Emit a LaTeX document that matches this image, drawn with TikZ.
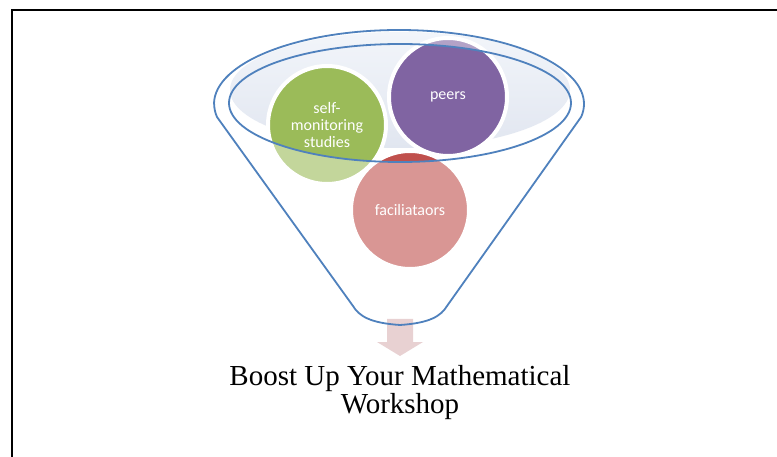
\documentclass[tikz,border=0pt]{standalone}
\usepackage{fontspec}
\setmainfont{Liberation Serif}
\newfontfamily\carlito{Carlito}
\definecolor{fgreen}{HTML}{9BBB59}
\definecolor{fgreenl}{HTML}{C3D69B}
\definecolor{fpurple}{HTML}{8064A2}
\definecolor{fpurplel}{HTML}{B3A2C7}
\definecolor{fred}{HTML}{C0504D}
\definecolor{fredl}{HTML}{D99694}
\definecolor{fblue}{HTML}{4F81BD}
\definecolor{filltop}{HTML}{F2F5FA}
\definecolor{fillbot}{HTML}{E1E6F0}
\definecolor{arrowc}{HTML}{E8D1D2}
\begin{document}
\begin{tikzpicture}[x=1pt,y=-1pt,
  ring/.style={circle, draw=white, line width=4pt, minimum size=118pt, inner sep=0pt,
    text=white, align=center, font=\carlito\fontsize{16}{17}\selectfont},
  funnelline/.style={draw=fblue, line width=1.8pt, line join=round}]
\useasboundingbox (0,0) rectangle (777,457);
\fill[white] (0,0) rectangle (777,457);
\draw[line width=2pt] (12,457) -- (12,10) -- (777,10);
% pale fill of the funnel mouth
\shade[top color=filltop, bottom color=fillbot] (400,90) ellipse[x radius=170, y radius=58];
% light (outside) parts of the balls
\fill[fgreenl] (327,125) circle[radius=59];
\fill[fpurplel] (448,97) circle[radius=59];
\fill[fredl] (410,210) circle[radius=59];
% strong parts inside the mouth
\begin{scope}
  \clip (400,103) ellipse[x radius=171, y radius=59];
  \fill[fgreen] (327,125) circle[radius=59];
  \fill[fpurple] (448,97) circle[radius=59];
  \fill[fred] (410,210) circle[radius=59];
\end{scope}
\node[ring] (self) at (327,125) {self-\\monitoring\\studies};
\node[ring] (peers) at (448,97) {peers};
\node[ring] (fac) at (410,210) {faciliataors};
% arrow
\fill[arrowc] (387,319) -- (413,319) -- (413,342) -- (423,342) -- (400,356) -- (377,342) -- (387,342) -- cycle;
% funnel
\draw[funnelline] (400,103) ellipse[x radius=171, y radius=59];
\draw[funnelline] (214,104) arc[start angle=180, end angle=370, x radius=185, y radius=74]
  -- (447,306) .. controls (441,316) and (430,323) .. (400,325)
  .. controls (370,323) and (359,316) .. (353,306)
  -- (217,117) arc[start angle=170, end angle=180, x radius=185, y radius=74] -- cycle;
\node[font=\fontsize{29}{28}\selectfont, align=center, inner sep=0pt] (title) at (400,393)
  {Boost Up Your Mathematical\\Workshop};
\end{tikzpicture}
\end{document}
